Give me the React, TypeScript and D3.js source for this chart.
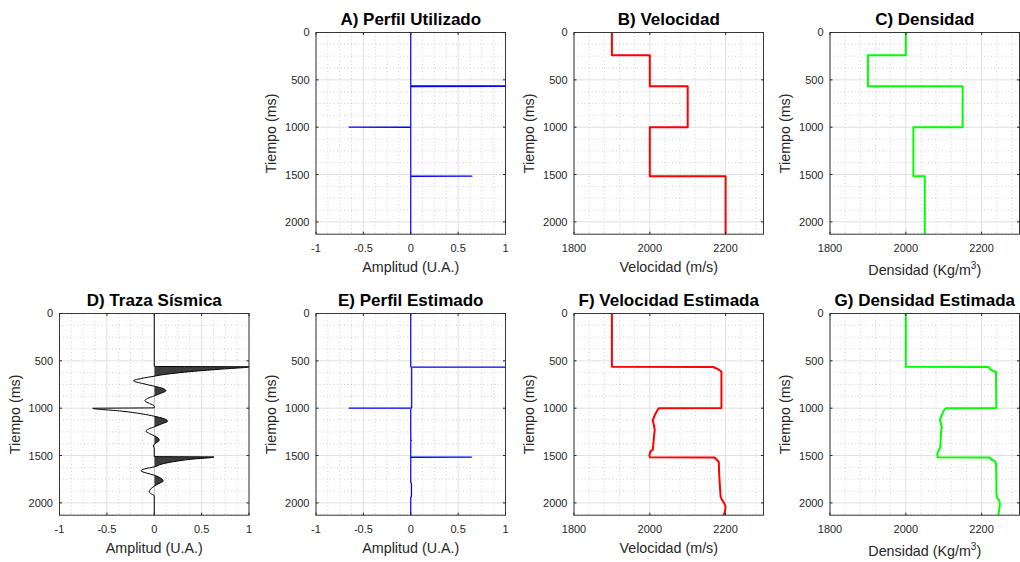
import { useEffect, useRef } from "react";
import * as d3 from "d3";

const W = 1020;
const H = 562;
const T_MAX = 2130;
const PW = 189.5;
const PH = 201.7;

const timeTicks = [0, 500, 1000, 1500, 2000];
const ampTicks = [-1, -0.5, 0, 0.5, 1];
const propTicks = [1800, 2000, 2200];

// A) reflectivity used in the model
const usedTime = [0, 561, 564, 566, 568, 571, 997, 1000, 1003, 1514, 1517, 1520, T_MAX];
const usedAmp = [0, 0, 1, 0, 1, 0, 0, -0.65, 0, 0, 0.645, 0, 0];

// B) / C) layer tops, velocity and density
const layerTop = [0, 240, 568, 1000, 1517];
const layerVel = [1900, 2000, 2100, 2000, 2200];
const layerDen = [2000, 1900, 2150, 2020, 2050];

// D) synthetic trace (time in ms, amplitude)
const traceTime = [
  0, 559, 563, 588, 609, 630, 648, 662, 685, 711, 740, 768, 795, 817, 842, 870,
  897, 922, 950, 978, 996, 1001, 1030, 1060, 1085, 1110, 1137, 1165, 1197, 1220,
  1243, 1268, 1292, 1315, 1338, 1360, 1380, 1400, 1420, 1511, 1515, 1540, 1565,
  1590, 1620, 1640, 1662, 1685, 1708, 1740, 1768, 1795, 1824, 1855, 1884, 1905,
  1926, T_MAX,
];
const traceAmp = [
  0, 0, 1.0, 0.7, 0.43, 0.22, 0.08, 0, -0.13, -0.22, -0.12, 0, 0.1, 0.123, 0.07, 0,
  -0.07, -0.1, -0.05, 0, 0, -0.65, -0.35, -0.13, 0, 0.1, 0.14, 0.08, 0, -0.06,
  -0.088, -0.05, 0, 0.04, 0.053, 0.03, 0, -0.01, 0, 0, 0.63, 0.38, 0.2,
  0.08, 0, -0.1, -0.14, -0.08, 0, 0.07, 0.095, 0.05, 0, -0.04, -0.053, -0.03,
  0, 0,
];

// E) estimated reflectivity
const estTime = [
  0, 563, 566, 569, 996, 999, 1002, 1336, 1339, 1343, 1514, 1517, 1520, 1788,
  1792, 1936, 1940, T_MAX,
];
const estAmp = [
  0, 0, 1, 0.01, 0.01, -0.65, 0, 0, 0.008, 0, 0, 0.64, 0, 0,
  0.008, 0.008, 0, 0,
];

// F) estimated velocity
const velEstTime = [
  0, 563, 565, 588, 605, 616, 997, 1000, 1021, 1074, 1127, 1180, 1232, 1303, 1391,
  1437, 1454, 1496, 1519, 1521, 1542, 1567, 1690, 1831, 1937, 1972, 2000, 2042,
  2095, T_MAX,
];
const velEst = [
  1900, 1900, 2167, 2180, 2186, 2189, 2189, 2024, 2020, 2013, 2008, 2011, 2013,
  2011, 2009, 2008, 2002, 1999, 2000, 2171, 2176, 2182, 2183, 2185, 2187, 2191,
  2196, 2200, 2198, 2195,
];

// G) estimated density
const denEstTime = [
  0, 563, 565, 592, 609, 616, 997, 1000, 1021, 1074, 1127, 1197, 1250, 1338, 1415,
  1444, 1479, 1519, 1521, 1542, 1560, 1584, 1725, 1901, 1944, 1972, 2007, 2060,
  T_MAX,
];
const denEst = [
  2000, 2000, 2218, 2224, 2232, 2238, 2239, 2106, 2101, 2095, 2090, 2095, 2093,
  2092, 2091, 2087, 2083, 2084, 2222, 2226, 2235, 2238, 2239, 2239, 2241, 2246,
  2248, 2247, 2244,
];

const FONT = "'Liberation Sans', Arial, Helvetica, sans-serif";

interface PanelOpts {
  id: string;
  left: number;
  top: number;
  xDomain: [number, number];
  xTicks: number[];
  xMinor: number;
  title: string;
  xLabel: string;
  sup?: string;
}

function drawPanel(svg: any, p: PanelOpts) {
  const g = svg.append("g").attr("transform", `translate(${p.left},${p.top})`);
  const x = d3.scaleLinear().domain(p.xDomain).range([0, PW]);
  const y = d3.scaleLinear().domain([0, T_MAX]).range([0, PH]);

  const isMajor = (arr: number[], v: number) =>
    arr.some((t) => Math.abs(t - v) < 1e-6);
  const xMinor = d3
    .range(p.xDomain[0], p.xDomain[1] + 1e-9, p.xMinor)
    .filter((v) => !isMajor(p.xTicks, v));
  const yMinor = d3.range(0, T_MAX, 125).filter((v) => !isMajor(timeTicks, v));

  // minor grid (dotted)
  g.selectAll(".xm")
    .data(xMinor)
    .enter()
    .append("line")
    .attr("x1", (d: number) => x(d))
    .attr("x2", (d: number) => x(d))
    .attr("y1", 0)
    .attr("y2", PH)
    .attr("stroke", "#bdbdbd")
    .attr("stroke-width", 0.7)
    .attr("stroke-dasharray", "1,2.5");
  g.selectAll(".ym")
    .data(yMinor)
    .enter()
    .append("line")
    .attr("x1", 0)
    .attr("x2", PW)
    .attr("y1", (d: number) => y(d))
    .attr("y2", (d: number) => y(d))
    .attr("stroke", "#bdbdbd")
    .attr("stroke-width", 0.7)
    .attr("stroke-dasharray", "1,2.5");

  // major grid
  g.selectAll(".xg")
    .data(p.xTicks)
    .enter()
    .append("line")
    .attr("x1", (d: number) => x(d))
    .attr("x2", (d: number) => x(d))
    .attr("y1", 0)
    .attr("y2", PH)
    .attr("stroke", "#dcdcdc")
    .attr("stroke-width", 0.9);
  g.selectAll(".yg")
    .data(timeTicks)
    .enter()
    .append("line")
    .attr("x1", 0)
    .attr("x2", PW)
    .attr("y1", (d: number) => y(d))
    .attr("y2", (d: number) => y(d))
    .attr("stroke", "#dcdcdc")
    .attr("stroke-width", 0.9);

  // clip for data
  g.append("clipPath")
    .attr("id", `clip-${p.id}`)
    .append("rect")
    .attr("x", 0)
    .attr("y", 0)
    .attr("width", PW)
    .attr("height", PH);
  const data = g.append("g").attr("clip-path", `url(#clip-${p.id})`);

  // axes box
  g.append("rect")
    .attr("x", 0)
    .attr("y", 0)
    .attr("width", PW)
    .attr("height", PH)
    .attr("fill", "none")
    .attr("stroke", "#262626")
    .attr("stroke-width", 0.9);

  // inward ticks on all sides
  const tl = 2.5;
  p.xTicks.forEach((t) => {
    g.append("line").attr("x1", x(t)).attr("x2", x(t)).attr("y1", PH).attr("y2", PH - tl).attr("stroke", "#262626");
    g.append("line").attr("x1", x(t)).attr("x2", x(t)).attr("y1", 0).attr("y2", tl).attr("stroke", "#262626");
  });
  timeTicks.forEach((t) => {
    g.append("line").attr("x1", 0).attr("x2", tl).attr("y1", y(t)).attr("y2", y(t)).attr("stroke", "#262626");
    g.append("line").attr("x1", PW).attr("x2", PW - tl).attr("y1", y(t)).attr("y2", y(t)).attr("stroke", "#262626");
  });

  // tick labels
  g.selectAll(".xl")
    .data(p.xTicks)
    .enter()
    .append("text")
    .attr("x", (d: number) => x(d))
    .attr("y", PH + 17.5)
    .attr("text-anchor", "middle")
    .attr("font-family", FONT)
    .attr("font-size", 11)
    .attr("fill", "#262626")
    .text((d: number) => String(d));
  g.selectAll(".yl")
    .data(timeTicks)
    .enter()
    .append("text")
    .attr("x", -6.5)
    .attr("y", (d: number) => y(d))
    .attr("dy", "0.36em")
    .attr("text-anchor", "end")
    .attr("font-family", FONT)
    .attr("font-size", 11)
    .attr("fill", "#262626")
    .text((d: number) => String(d));

  // axis labels
  const xl = g
    .append("text")
    .attr("x", PW / 2)
    .attr("y", PH + (p.sup ? 40.5 : 38))
    .attr("text-anchor", "middle")
    .attr("font-family", FONT)
    .attr("font-size", 14.3)
    .attr("fill", "#262626")
    .text(p.xLabel);
  if (p.sup) {
    xl.append("tspan").attr("dy", -6).attr("font-size", 10).text(p.sup);
    xl.append("tspan").attr("dy", 6).text(")");
  }
  g.append("text")
    .attr("transform", `translate(-40,${PH / 2}) rotate(-90)`)
    .attr("text-anchor", "middle")
    .attr("font-family", FONT)
    .attr("font-size", 14.3)
    .attr("fill", "#262626")
    .text("Tiempo (ms)");

  // title
  g.append("text")
    .attr("x", PW / 2)
    .attr("y", -7.8)
    .attr("text-anchor", "middle")
    .attr("font-family", FONT)
    .attr("font-size", 17)
    .attr("font-weight", "bold")
    .attr("fill", "#000")
    .text(p.title);

  return { data, x, y };
}

function pairs(xs: number[], ts: number[]): [number, number][] {
  return ts.map((t, i) => [xs[i], t]);
}

function layerPairs(vals: number[]): [number, number][] {
  const out: [number, number][] = [];
  vals.forEach((v, i) => {
    const bottom = i < layerTop.length - 1 ? layerTop[i + 1] : T_MAX;
    out.push([v, layerTop[i]]);
    out.push([v, bottom]);
  });
  return out;
}

export default function App() {
  const svgRef = useRef<SVGSVGElement | null>(null);

  useEffect(() => {
    if (!svgRef.current) return;
    const svg = d3.select(svgRef.current);
    svg.selectAll("*").remove();

    const cols = [59.5, 316, 574, 830];
    const rows = [32.5, 313.5];

    const drawLine = (
      panel: { data: any; x: any; y: any },
      pts: [number, number][],
      color: string,
      width: number
    ) => {
      const line = d3
        .line<[number, number]>()
        .x((d) => panel.x(d[0]))
        .y((d) => panel.y(d[1]));
      panel.data
        .append("path")
        .attr("d", line(pts))
        .attr("fill", "none")
        .attr("stroke", color)
        .attr("stroke-width", width)
        .attr("stroke-linejoin", "round");
    };

    // A
    const pA = drawPanel(svg, {
      id: "a", left: cols[1], top: rows[0], xDomain: [-1, 1], xTicks: ampTicks, xMinor: 0.125,
      title: "A) Perfil Utilizado", xLabel: "Amplitud (U.A.)",
    });
    drawLine(pA, pairs(usedAmp, usedTime), "#0000ff", 1.2);

    // B
    const pB = drawPanel(svg, {
      id: "b", left: cols[2], top: rows[0], xDomain: [1800, 2300], xTicks: propTicks, xMinor: 40,
      title: "B) Velocidad", xLabel: "Velocidad (m/s)",
    });
    drawLine(pB, layerPairs(layerVel), "#ff0000", 2);

    // C
    const pC = drawPanel(svg, {
      id: "c", left: cols[3], top: rows[0], xDomain: [1800, 2300], xTicks: propTicks, xMinor: 40,
      title: "C) Densidad", xLabel: "Densidad (Kg/m", sup: "3",
    });
    drawLine(pC, layerPairs(layerDen), "#00ff00", 2);

    // D - seismic trace with filled positive lobes
    const pD = drawPanel(svg, {
      id: "d", left: cols[0], top: rows[1], xDomain: [-1, 1], xTicks: ampTicks, xMinor: 0.125,
      title: "D) Traza Sísmica", xLabel: "Amplitud (U.A.)",
    });
    const tracePts = pairs(traceAmp, traceTime);
    pD.data
      .append("clipPath")
      .attr("id", "clip-pos")
      .append("rect")
      .attr("x", pD.x(0))
      .attr("y", 0)
      .attr("width", PW - pD.x(0))
      .attr("height", PH);
    const area = d3
      .area<[number, number]>()
      .y((d) => pD.y(d[1]))
      .x0(pD.x(0))
      .x1((d) => pD.x(d[0]))
      .curve(d3.curveMonotoneY);
    pD.data
      .append("path")
      .attr("clip-path", "url(#clip-pos)")
      .attr("d", area(tracePts))
      .attr("fill", "#3d3d3d");
    const traceLine = d3
      .line<[number, number]>()
      .x((d) => pD.x(d[0]))
      .y((d) => pD.y(d[1]))
      .curve(d3.curveMonotoneY);
    pD.data
      .append("path")
      .attr("d", traceLine(tracePts))
      .attr("fill", "none")
      .attr("stroke", "#000")
      .attr("stroke-width", 1);

    // E
    const pE = drawPanel(svg, {
      id: "e", left: cols[1], top: rows[1], xDomain: [-1, 1], xTicks: ampTicks, xMinor: 0.125,
      title: "E) Perfil Estimado", xLabel: "Amplitud (U.A.)",
    });
    drawLine(pE, pairs(estAmp, estTime), "#0000ff", 1.2);

    // F
    const pF = drawPanel(svg, {
      id: "f", left: cols[2], top: rows[1], xDomain: [1800, 2300], xTicks: propTicks, xMinor: 40,
      title: "F) Velocidad Estimada", xLabel: "Velocidad (m/s)",
    });
    drawLine(pF, pairs(velEst, velEstTime), "#ff0000", 2);

    // G
    const pG = drawPanel(svg, {
      id: "g", left: cols[3], top: rows[1], xDomain: [1800, 2300], xTicks: propTicks, xMinor: 40,
      title: "G) Densidad Estimada", xLabel: "Densidad (Kg/m", sup: "3",
    });
    drawLine(pG, pairs(denEst, denEstTime), "#00ff00", 2);
  }, []);

  return (
    <svg
      ref={svgRef}
      width={W}
      height={H}
      style={{ position: "absolute", left: 0, top: 0, background: "#fff" }}
    />
  );
}
